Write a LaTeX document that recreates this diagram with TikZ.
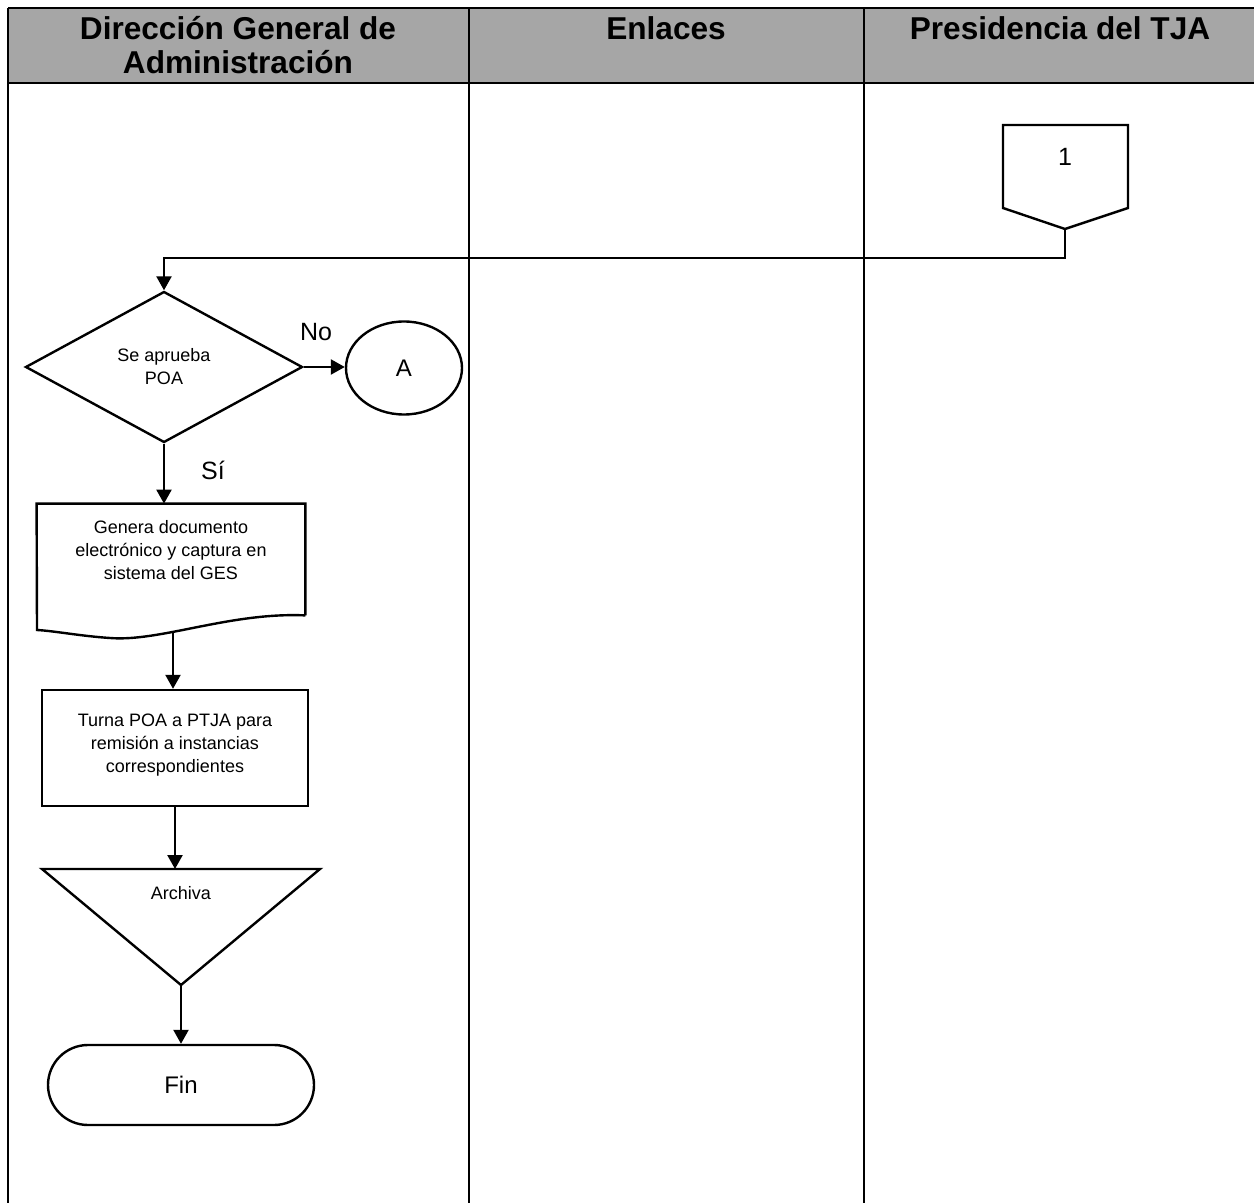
\documentclass[tikz,border=0pt]{standalone}
\usepackage{fontspec}
\setmainfont{Liberation Sans}
\usepackage{tikz}
\usetikzlibrary{calc}
\usetikzlibrary{arrows.meta}
\usetikzlibrary{shapes.geometric}
\definecolor{hdrgray}{HTML}{A6A6A6}
\tikzset{
 flow/.style = {black, line width=1.2pt, -{Triangle[length=7pt,width=7.5pt]}},
 txt/.style = {align=center, inner sep=0pt, font=\fontsize{9}{11.5}\selectfont},
 box/.style = {txt, draw, line width=1.2pt},
 lbl/.style = {inner sep=0pt, font=\fontsize{12.5}{15}\selectfont},
 hdr/.style = {align=center, inner sep=0pt, font=\bfseries\fontsize{15.8}{17}\selectfont},
}

\begin{document}
\begin{tikzpicture}[x=.5pt, y=-.5pt]
\useasboundingbox (0,0) rectangle (1254,1203);
% encabezado de carriles
\fill[hdrgray] (8,8) rectangle (1254,83);
\draw[black, line width=1.1pt] (8,8) -- (1254,8);
\draw[black, line width=1.1pt] (8,83) -- (1254,83);
\foreach \x in {8,469,864} {
 \draw[black, line width=1.1pt] (\x,8) -- (\x,1203);
}
\node[hdr] (dga) at (238,45) {Dirección General de\\Administración};
\node[hdr] (enl) at (666,28) {Enlaces};
\node[hdr] (ptja) at (1060,28) {Presidencia del TJA};

% conector de pagina
\draw[black, line width=1.2pt] (1003,125) -- (1128,125) -- (1128,208) -- (1065,229) -- (1003,208) -- cycle;
\node[lbl, font=\fontsize{12.5}{15}\selectfont] (pag1) at (1065,157) {1};
\coordinate (pag1tip) at (1065,229);

% decision
\node[box, diamond, minimum width=138.5pt, minimum height=75.5pt] (dec) at (164,367) {Se aprueba\\POA};
\node[box, ellipse, minimum width=58pt, minimum height=46.5pt, font=\fontsize{12}{14}\selectfont] (conA) at (404,368) {A};
\node[lbl] (no) at (316,332) {No};
\node[lbl] (si) at (213,470) {Sí};

% documento
\node[minimum width=134pt, minimum height=55.5pt, inner sep=0pt] (doc) at (171,559.5) {};
\draw[black, line width=1.2pt] (doc.south east) -- (doc.north east) -- (doc.north west) -- (37,630)
 .. controls (55,631) and (80,636) .. (110,638)
 .. controls (160,642) and (230,612) .. (doc.south east);
\node[txt] (doctxt) at (171,550) {Genera documento\\electrónico y captura en\\sistema del GES};
\coordinate (docb) at (173,632);

% proceso
\node[box, minimum width=133pt, minimum height=58pt] (proc) at (175,748) {Turna POA a PTJA para\\remisión a instancias\\correspondientes\\[-7pt]};

% archivo
\draw[black, line width=1.2pt] (42,869) -- (320,869) -- (181,985) -- cycle;
\node[txt] (arch) at (181,893) {Archiva};
\coordinate (tritop) at (175,869);
\coordinate (tritip) at (181,985);

% fin
\node[box, rounded corners=20pt, minimum width=133pt, minimum height=40pt, font=\fontsize{12}{14}\selectfont] (fin) at (181,1085) {Fin};

% flechas
\draw[flow] (pag1tip) -- ++(0,29) -| (dec.north);
\draw[flow] (dec.east) -- (dec.east -| conA.west);
\draw[flow] (dec.south) -- (dec.south |- doc.north);
\draw[flow] (docb) -- (docb |- proc.north);
\draw[flow] (proc.south) -- (tritop);
\draw[flow] (tritip) -- (fin.north);
\end{tikzpicture}
\end{document}
